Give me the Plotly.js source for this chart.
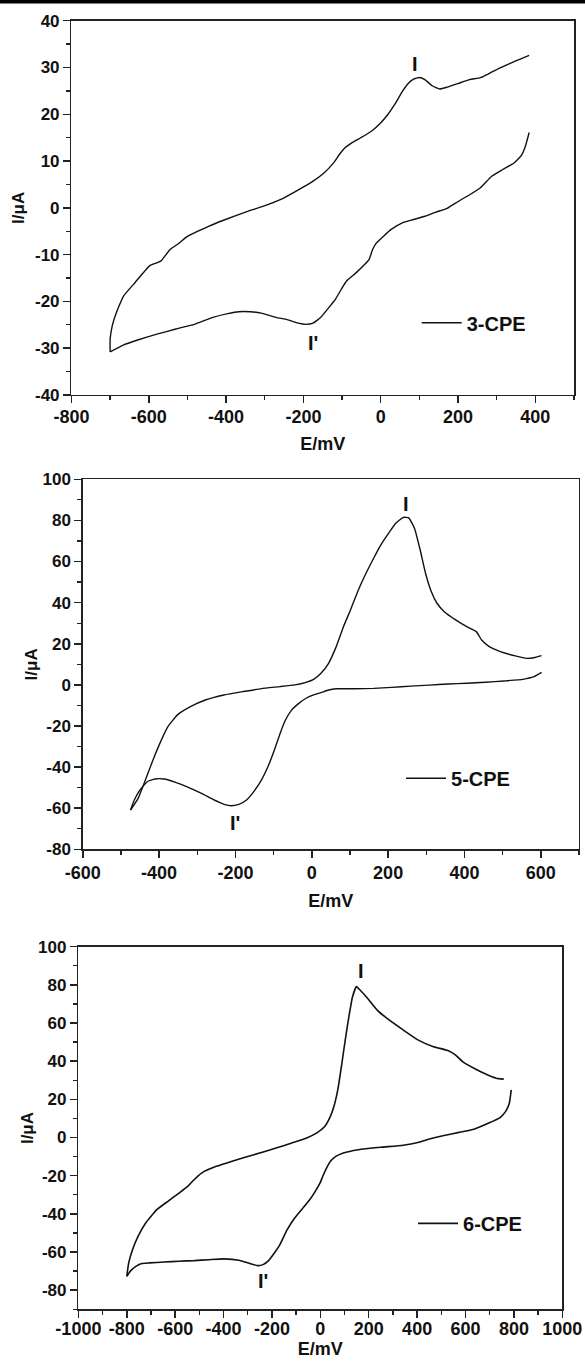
<!DOCTYPE html>
<html>
<head>
<meta charset="utf-8">
<script src="https://cdn.plot.ly/plotly-3.0.1.min.js"></script>
<style>
html,body{margin:0;padding:0;background:#fff;}
#chart{width:585px;height:1362px;}
</style>
</head>
<body>
<div id="chart"></div>
<script>
// ---- Panel 1: 3-CPE ----
const e3Fwd = [-700,-700,-694,-684,-672,-665,-636,-598,-569,-545,-521,-502,-444,-405,-348,-309,-251,-203,-175,-146,-122,-107,-93,-73,-45,-21,-1,18,37,56,71,85,100,114,133,153,172,201,230,258,278,306,335,364,384];
const i3Fwd = [-30.8,-28,-25,-22.4,-20,-18.8,-16,-12.4,-11.4,-8.9,-7.5,-6.2,-3.9,-2.6,-0.85,0.2,2.1,4.3,5.7,7.5,9.6,11.4,12.8,14.0,15.3,16.6,18.1,19.9,22.2,24.9,26.6,27.5,27.85,27.4,26.1,25.4,25.8,26.6,27.4,27.85,28.6,29.8,30.9,31.9,32.6];
const e3Rev = [384,374,364,345,316,287,258,230,201,172,143,114,85,56,27,8,-11,-21,-30,-45,-64,-88,-102,-117,-136,-155,-175,-194,-213,-242,-271,-309,-338,-367,-396,-434,-482,-530,-579,-627,-665,-700];
const i3Rev = [16.1,13.1,11.2,9.6,8.2,6.75,4.3,2.8,1.4,-0.1,-0.9,-1.8,-2.5,-3.2,-4.6,-6.0,-7.5,-8.9,-11.0,-12.4,-13.9,-15.6,-17.4,-19.5,-21.5,-23.4,-24.65,-24.9,-24.65,-23.9,-23.4,-22.5,-22.2,-22.2,-22.6,-23.4,-24.9,-25.9,-27.0,-28.2,-29.3,-30.8];

// ---- Panel 2: 5-CPE ----
const e5Fwd = [-475,-455,-436,-416,-396,-377,-352,-318,-279,-230,-181,-132,-83,-44,-15,5,24,44,64,83,103,122,142,162,181,201,220,240,254,269,284,298,313,328,347,377,406,431,445,465,494,533,563,582,602];
const i5Fwd = [-60.9,-55.2,-46.3,-36.5,-27.6,-20.3,-14.6,-10.6,-7.35,-4.9,-3.3,-1.8,-0.85,0,1.25,2.7,5.6,10.5,18.6,28.3,37.2,46.2,54.3,61.6,68.1,73.7,78.6,81.5,81.2,76.2,65.6,54.3,45.4,39.7,35.6,31.6,28.3,25.9,21.8,18.6,16.2,14.1,12.9,13.2,14.2];
const e5Rev = [602,582,553,504,455,406,357,308,259,210,162,113,64,44,24,5,-15,-34,-54,-69,-83,-98,-113,-132,-152,-171,-191,-211,-230,-259,-289,-328,-357,-387,-411,-431,-450,-465,-475];
const i5Rev = [6.1,4.0,2.7,1.9,1.25,0.8,0.4,-0.1,-0.6,-1.2,-1.7,-1.9,-1.9,-2.5,-3.8,-4.9,-6.5,-9,-12.5,-17.1,-23.6,-31.7,-39,-46.3,-51.9,-56,-58.1,-58.8,-58.1,-55.7,-52.8,-49.5,-47.4,-45.8,-45.8,-47.1,-51.1,-56,-60.9];

// ---- Panel 3: 6-CPE ----
const e6Fwd = [-800,-792,-776,-753,-722,-676,-630,-584,-545,-522,-491,-430,-368,-275,-183,-121,-59,-13,18,41,56,72,87,103,118,133,149,164,195,234,280,342,403,465,527,558,588,635,681,727,758];
const i6Fwd = [-72.7,-65.7,-58.7,-51.7,-44.8,-37.8,-33.4,-29.1,-25.2,-22.1,-18.6,-15.1,-12.5,-9.0,-5.5,-3.0,-0.35,2.6,5.8,11.0,16.3,25,37.2,51.2,63.4,73.8,79.1,77.3,73.0,66.9,62.0,56.4,51.2,47.7,45.6,43.3,39.8,36.3,33.4,31.1,30.6];
const e6Rev = [789,781,766,743,696,635,573,511,450,403,342,249,157,95,64,41,22,10,-1,-21,-44,-75,-106,-137,-167,-190,-214,-237,-260,-291,-337,-399,-460,-522,-584,-645,-707,-738,-761,-785,-800];
const i6Rev = [25,18,13.7,10.5,7.6,4.4,2.7,1.1,-0.8,-2.6,-4.0,-5.1,-6.4,-8.1,-9.9,-12.5,-16.9,-20.3,-23.8,-28.2,-32.6,-37.4,-42.2,-48.3,-56.1,-60.5,-64.5,-66.6,-67.1,-66.0,-64.3,-63.6,-64,-64.5,-64.8,-65.2,-65.7,-66.0,-67.4,-70.0,-72.7];

const seriesNames = ['3-CPE','5-CPE','6-CPE'];
const peakLabels = ['I', "I'"];
// peak label positions (data units) per panel: [E, I]
const peakPos3 = [[88, 30.8], [-175, -28.9]];
const peakPos5 = [[248, 87.8], [-201, -67]];
const peakPos6 = [[166, 87.5], [-237, -75]];

// tick values and labels (hyphen-minus as in the original)
const xTicks3 = [-800,-600,-400,-200,0,200,400];
const yTicks3 = [-40,-30,-20,-10,0,10,20,30,40];
const xTicks5 = [-600,-400,-200,0,200,400,600];
const yTicks5 = [-80,-60,-40,-20,0,20,40,60,80,100];
const xTicks6 = [-1000,-800,-600,-400,-200,0,200,400,600,800,1000];
const yTicks6 = [-80,-60,-40,-20,0,20,40,60,80,100];
const tickText = v => v.map(t => String(t));

const FONT = 'Liberation Sans, Arial, sans-serif';
const INK = '#111';

function loop(eF, iF, eR, iR){
  return {x: eF.concat([null], eR), y: iF.concat([null], iR)};
}

const d3 = loop(e3Fwd, i3Fwd, e3Rev, i3Rev);
const d5 = loop(e5Fwd, i5Fwd, e5Rev, i5Rev);
const d6 = loop(e6Fwd, i6Fwd, e6Rev, i6Rev);

const lineStyle = {color: '#111', width: 1.4, shape: 'spline', smoothing: 0.4};

const traces = [
  {x: d3.x, y: d3.y, xaxis: 'x', yaxis: 'y', mode: 'lines', name: seriesNames[0], line: lineStyle, connectgaps: false, legend: 'legend'},
  {x: d5.x, y: d5.y, xaxis: 'x2', yaxis: 'y2', mode: 'lines', name: seriesNames[1], line: lineStyle, connectgaps: false, legend: 'legend2'},
  {x: d6.x, y: d6.y, xaxis: 'x3', yaxis: 'y3', mode: 'lines', name: seriesNames[2], line: Object.assign({}, lineStyle, {width: 1.6}), connectgaps: false, legend: 'legend3'}
];

function minorTicks(d){ return {ticks: 'outside', ticklen: 4, tickwidth: 1.3, tickcolor: '#222', dtick: d, tick0: 0, showgrid: false}; }

function ax(extra, size){
  return Object.assign({
    showline: true, linecolor: '#222', linewidth: 1.5, mirror: true,
    ticks: 'outside', ticklen: 7, tickwidth: 1.5, tickcolor: '#222',
    showgrid: false, zeroline: false, automargin: false,
    tickmode: 'array',
    tickfont: {family: FONT, size: size, color: INK, weight: 'bold'}
  }, extra);
}
function xTitle(standoff){ return {text: 'E/mV', font: {family: FONT, size: 18, color: INK, weight: 'bold'}, standoff: standoff}; }
function yTitle(standoff){ return {text: 'I/μA', font: {family: FONT, size: 17, color: INK, weight: 'bold'}, standoff: standoff}; }

function legendAt(x, y){
  return {x: x, y: y, xanchor: 'left', yanchor: 'middle', bgcolor: 'rgba(0,0,0,0)', borderwidth: 0,
    font: {family: FONT, size: 20, color: INK, weight: 'bold'}, itemwidth: 40};
}

function peakAnn(pos, xr, yr){
  return pos.map((p, k) => ({x: p[0], y: p[1], xref: xr, yref: yr, text: peakLabels[k], showarrow: false,
    font: {family: FONT, size: 20, color: INK, weight: 'bold'}}));
}

const layout = {
  width: 585, height: 1362,
  margin: {l: 0, r: 0, t: 0, b: 0},
  paper_bgcolor: '#fff', plot_bgcolor: '#fff',
  showlegend: true,
  xaxis: ax({domain: [0.1222, 0.9812], range: [-800, 500], tickvals: xTicks3, ticktext: tickText(xTicks3), ticklabelstandoff: -2, anchor: 'y', minor: minorTicks(100), title: xTitle(11)}, 18),
  yaxis: ax({domain: [0.7100, 0.9848], range: [-40, 40], tickvals: yTicks3, ticktext: tickText(yTicks3), anchor: 'x', minor: minorTicks(5), title: yTitle(6)}, 17),
  xaxis2: ax({domain: [0.1415, 0.9897], range: [-600, 700], tickvals: xTicks5, ticktext: tickText(xTicks5), anchor: 'y2', minor: minorTicks(100), title: xTitle(12)}, 18),
  yaxis2: ax({domain: [0.3764, 0.6481], range: [-80, 100], tickvals: yTicks5, ticktext: tickText(yTicks5), anchor: 'x2', minor: minorTicks(10), title: yTitle(0)}, 17),
  xaxis3: ax({domain: [0.1340, 0.9612], range: [-1000, 1000], tickvals: xTicks6, ticktext: tickText(xTicks6), ticklabelstandoff: -4, anchor: 'y3', minor: minorTicks(100), title: xTitle(1)}, 18),
  yaxis3: ax({domain: [0.0387, 0.3049], range: [-90, 100], tickvals: yTicks6, ticktext: tickText(yTicks6), anchor: 'x3', minor: minorTicks(10), title: yTitle(0)}, 17),
  legend: legendAt(0.7123, 0.7630),
  legend2: legendAt(0.6855, 0.4286),
  legend3: legendAt(0.7060, 0.1018),
  annotations: [].concat(peakAnn(peakPos3, 'x', 'y'), peakAnn(peakPos5, 'x2', 'y2'), peakAnn(peakPos6, 'x3', 'y3')),
  shapes: [
    {type: 'rect', xref: 'paper', yref: 'paper', x0: 0, x1: 1, y0: 0.99743, y1: 1, fillcolor: '#000', line: {width: 0}, layer: 'above'}
  ]
};

Plotly.newPlot('chart', traces, layout, {displayModeBar: false, staticPlot: true});
</script>
</body>
</html>
